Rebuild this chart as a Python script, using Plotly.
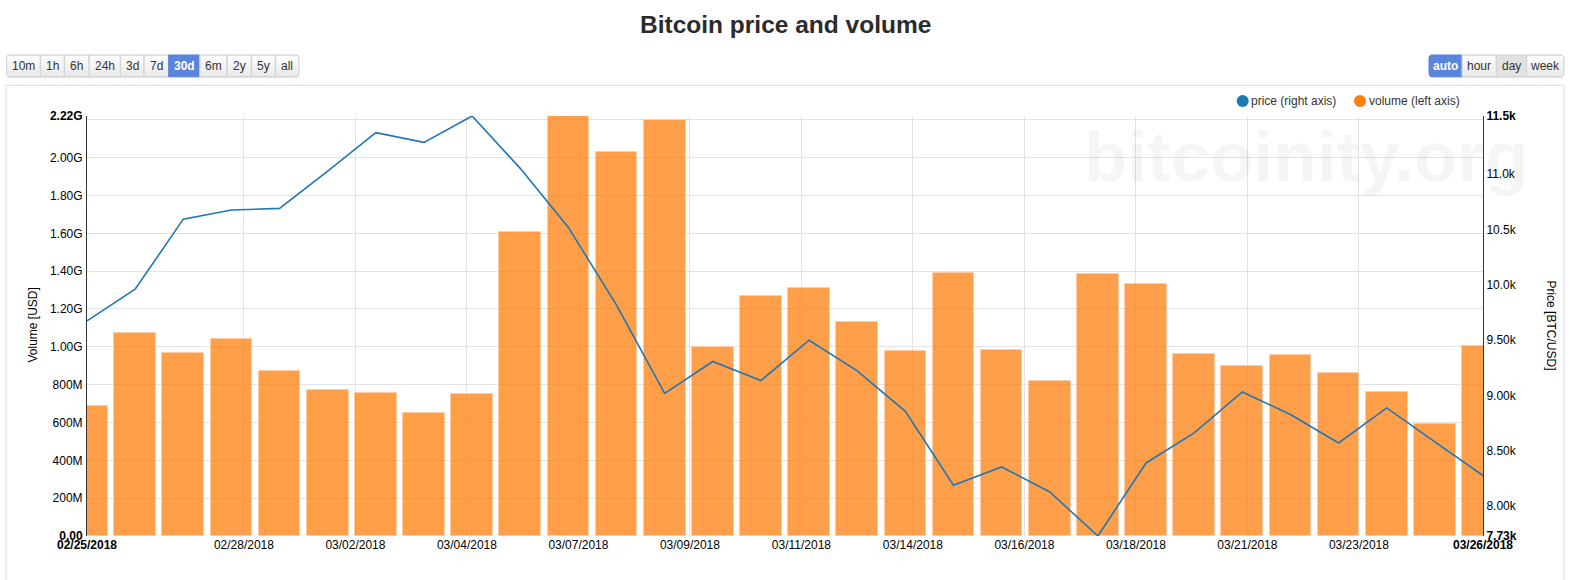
import plotly.graph_objects as go

W, H = 1582, 580
L, R, T, B = 87.3, 1483.3, 116, 535.7

days = ["2018-02-25", "2018-02-26", "2018-02-27", "2018-02-28", "2018-03-01", "2018-03-02",
        "2018-03-03", "2018-03-04", "2018-03-05", "2018-03-06", "2018-03-07", "2018-03-08",
        "2018-03-09", "2018-03-10", "2018-03-11", "2018-03-12", "2018-03-13", "2018-03-14",
        "2018-03-15", "2018-03-16", "2018-03-17", "2018-03-18", "2018-03-19", "2018-03-20",
        "2018-03-21", "2018-03-22", "2018-03-23", "2018-03-24", "2018-03-25", "2018-03-26"]

volume = [0.687, 1.075, 0.969, 1.043, 0.874, 0.774, 0.756, 0.650, 0.753, 1.607,
          2.240, 2.030, 2.197, 0.999, 1.268, 1.313, 1.131, 0.978, 1.388, 0.985,
          0.818, 1.383, 1.330, 0.964, 0.900, 0.955, 0.864, 0.761, 0.594, 1.003]

price = [9674, 9960, 10593, 10675, 10690, 11027, 11374, 11287, 11525, 11052,
         10518, 9816, 9018, 9307, 9135, 9499, 9222, 8857, 8188, 8354,
         8128, 7730, 8390, 8661, 9032, 8828, 8571, 8887, 8580, 8276]

x_ticks = ["2018-02-25 00:00", "2018-02-28 06:14", "2018-03-02 13:50", "2018-03-04 21:25",
           "2018-03-07 05:00", "2018-03-09 12:36", "2018-03-11 20:11", "2018-03-14 03:46",
           "2018-03-16 11:22", "2018-03-18 18:57", "2018-03-21 02:32", "2018-03-23 10:08",
           "2018-03-26 00:00"]
x_labels = ["<b>02/25/2018</b>", "02/28/2018", "03/02/2018", "03/04/2018", "03/07/2018",
            "03/09/2018", "03/11/2018", "03/14/2018", "03/16/2018", "03/18/2018",
            "03/21/2018", "03/23/2018", "<b>03/26/2018</b>"]

vol_ticks = [0, 0.2, 0.4, 0.6, 0.8, 1.0, 1.2, 1.4, 1.6, 1.8, 2.0, 2.2, 2.22]
vol_labels = ["<b>0.00</b>", "200M", "400M", "600M", "800M", "1.00G", "1.20G", "1.40G",
              "1.60G", "1.80G", "2.00G", "", "<b>2.22G</b>"]

price_ticks = [7730, 8000, 8500, 9000, 9500, 10000, 10500, 11000, 11525]
price_labels = ["<b>7.73k</b>", "8.00k", "8.50k", "9.00k", "9.50k", "10.0k", "10.5k", "11.0k",
                "<b>11.5k</b>"]

range_btns = ["10m", "1h", "6h", "24h", "3d", "7d", "30d", "6m", "2y", "5y", "all"]
range_edges = [6.7, 40.7, 64.7, 89.3, 120.7, 144.3, 169, 200, 227.3, 251.7, 275.7, 299.3]
group_btns = ["auto", "hour", "day", "week"]
group_edges = [1429.3, 1462.3, 1496.7, 1526.7, 1564.3]

FONT = "Liberation Sans"
BLUE = "#5b84dc"


# page pixels to paper coords, everything outside the plot area is placed like this
def px(x):
    return (x - L) / (R - L)


def py(y):
    return (B - y) / (B - T)


fig = go.Figure()

fig.add_trace(go.Bar(x=days, y=volume, name="volume (left axis)", yaxis="y",
                     width=0.866 * 86400000,
                     marker=dict(color="rgba(255,127,14,0.75)",
                                 line=dict(color="rgba(255,205,165,0.9)", width=1))))
fig.add_trace(go.Scatter(x=days, y=price, name="price (right axis)", yaxis="y2", mode="lines",
                         line=dict(color="#1f77b4", width=1.6)))

shapes = []
annots = []


def label(x, y, text, size=12, color="#333", xanchor="center", angle=0):
    annots.append(dict(xref="paper", yref="paper", x=px(x), y=py(y), text=text, showarrow=False,
                       xanchor=xanchor, yanchor="middle", textangle=angle,
                       font=dict(family=FONT, size=size, color=color)))


def button_row(names, edges, active, pressed=None):
    top, bot, r = 55, 76.7, 3
    # soft shadow under the row
    shapes.append(dict(type="line", xref="paper", yref="paper", x0=px(edges[0] + 1), x1=px(edges[-1] - 1),
                       y0=py(bot + 1), y1=py(bot + 1), line=dict(color="rgba(0,0,0,0.12)", width=1)))
    for i, name in enumerate(names):
        x0, x1 = edges[i], edges[i + 1]
        fill = "#e6e6e6"
        if name == active:
            fill = BLUE
        elif name == pressed:
            fill = "#e2e2e2"
        # outer corners of the row are rounded
        rl = r if i == 0 else 0
        rr = r if i == len(names) - 1 else 0
        a0, a1, b0, b1 = px(x0), px(x1), py(top), py(bot)
        dx, dy = 1 / (R - L), 1 / (B - T)
        path = (f"M {a0 + rl * dx} {b0} L {a1 - rr * dx} {b0} Q {a1} {b0} {a1} {b0 - rr * dy} "
                f"L {a1} {b1 + rr * dy} Q {a1} {b1} {a1 - rr * dx} {b1} L {a0 + rl * dx} {b1} "
                f"Q {a0} {b1} {a0} {b1 + rl * dy} L {a0} {b0 - rl * dy} Q {a0} {b0} {a0 + rl * dx} {b0} Z")
        shapes.append(dict(type="path", xref="paper", yref="paper", path=path, fillcolor=fill,
                           line=dict(color="#d4d4d4" if name != active else BLUE, width=1)))
        # bootstrap style top to bottom shading, stepped
        if name != active and name != pressed:
            steps = ["#fcfcfc", "#f9f9f9", "#f5f5f5", "#f1f1f1", "#ededed"]
            for k, col in enumerate(steps):
                shapes.append(dict(type="rect", xref="paper", yref="paper", x0=px(x0 + 1), x1=px(x1 - 1),
                                   y0=py(top + 1 + 3.8 * (k + 1)), y1=py(top + 1 + 3.8 * k),
                                   fillcolor=col, line=dict(width=0)))
        if name == active:
            label((x0 + x1) / 2, 66, "<b>%s</b>" % name, size=12, color="white")
        else:
            label((x0 + x1) / 2, 66, name, size=12, color="#333")


button_row(range_btns, range_edges, "30d")
button_row(group_btns, group_edges, "auto", pressed="day")

# frame around the chart, its bottom runs off the page
shapes.append(dict(type="rect", xref="paper", yref="paper", x0=px(6.3), x1=px(1564.3),
                   y0=py(600), y1=py(85.3), line=dict(color="#dddddd", width=1), layer="below"))

# legend
for cx, col, txt, tx in [(1243, "#1f77b4", "price (right axis)", 1249.7),
                         (1360.3, "#ff7f0e", "volume (left axis)", 1367)]:
    shapes.append(dict(type="circle", xref="paper", yref="paper", x0=px(cx - 6), x1=px(cx + 6),
                       y0=py(107), y1=py(95), fillcolor=col, line=dict(width=0)))
    label(tx, 101, txt, xanchor="left")

label(786, 25, "<b>Bitcoin price and volume</b>", size=24.5, color="#2b2b2b")
label(33.7, 325, "Volume [USD]", color="black", angle=-90)
label(1551, 325, "Price [BTC/USD]", color="black", angle=90)
label(1306.5, 156, "<b>bitcoinity.org</b>", size=71, color="rgba(0,0,0,0.04)")

fig.update_layout(
    width=W, height=H, showlegend=False, bargap=0,
    margin=dict(l=L, r=W - R, t=T, b=H - B, pad=0),
    paper_bgcolor="white", plot_bgcolor="white",
    font=dict(family=FONT, size=12, color="black"),
    shapes=shapes, annotations=annots,
    xaxis=dict(type="date", range=["2018-02-25", "2018-03-26"], tickmode="array",
               tickvals=x_ticks, ticktext=x_labels, showgrid=True, gridcolor="#e3e3e3",
               gridwidth=1, ticks="", showline=False, zeroline=False),
    yaxis=dict(range=[0, 2.22], tickmode="array", tickvals=vol_ticks, ticktext=vol_labels,
               showgrid=True, gridcolor="#e3e3e3", gridwidth=1, ticks="outside", ticklen=1,
               tickcolor="rgba(0,0,0,0)", showline=True, linecolor="#333333", linewidth=1,
               zeroline=False),
    yaxis2=dict(range=[7730, 11525], overlaying="y", side="right", tickmode="array",
                tickvals=price_ticks, ticktext=price_labels, showgrid=False, ticks="",
                showline=True, linecolor="#333333", linewidth=1, zeroline=False),
)

fig.write_html("out.html", config=dict(displayModeBar=False),
               post_script="document.body.style.margin='0';document.body.style.overflow='hidden';")
